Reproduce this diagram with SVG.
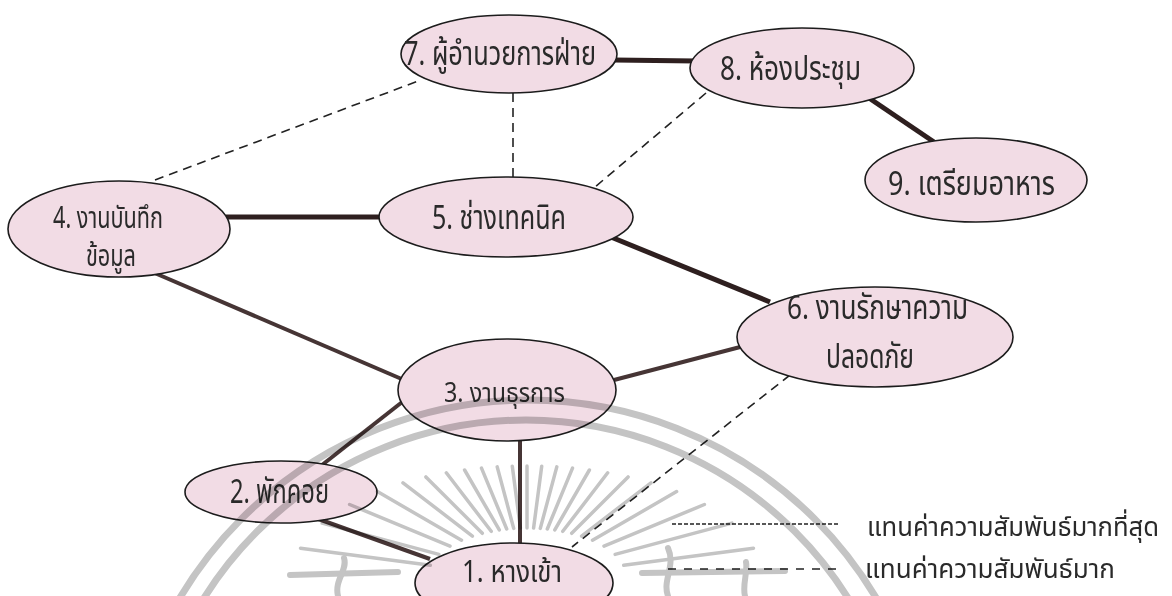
<svg xmlns="http://www.w3.org/2000/svg" width="1172" height="596" viewBox="0 0 1172 596">
  <style>
    .node { fill: #f2dce5; stroke: #1c1c1c; stroke-width: 1.6; }
    .lbl { font-family: "Noto Sans Thai", "Noto Sans Thai Looped", "Loma", "Garuda", "Waree", "Liberation Sans", "DejaVu Sans", sans-serif; font-size: 33px; fill: #2a2a2a; }
    .small { font-size: 27px; }
    .mid { font-size: 30px; }
    .legend-text { font-size: 26.5px; }
    .strong { stroke: #2e1f1f; stroke-width: 5; stroke-linecap: butt; fill: none; }
    .medium { stroke: #463535; stroke-width: 4; stroke-linecap: butt; fill: none; }
    .dash { stroke: #222; stroke-width: 1.6; stroke-dasharray: 9 6; fill: none; }
    .wm { stroke: #c4c4c4; fill: none; mix-blend-mode: multiply; }
  </style>
  <rect width="1172" height="596" fill="#ffffff"/>

  <!-- connectors -->
  <g id="connectors">
    <line class="strong" x1="226" y1="217" x2="383" y2="217"/>
    <line class="strong" x1="614" y1="60" x2="696" y2="61"/>
    <line class="strong" x1="866" y1="96" x2="934" y2="142"/>
    <line class="strong" x1="606" y1="235" x2="770" y2="302"/>
    <line class="medium" x1="150" y1="271" x2="404" y2="380"/>
    <line class="medium" x1="614" y1="380" x2="744" y2="346"/>
    <line class="medium" x1="406" y1="399" x2="322" y2="465"/>
    <line class="medium" x1="310" y1="516" x2="430" y2="559"/>
    <line class="medium" x1="520" y1="438" x2="520" y2="546"/>
    <line class="dash" x1="155" y1="180" x2="421" y2="80"/>
    <line class="dash" x1="513" y1="93" x2="513" y2="180"/>
    <line class="dash" x1="706" y1="93" x2="595" y2="187"/>
    <line class="dash" x1="790" y1="375" x2="572" y2="547"/>
  </g>

  <!-- nodes -->
  <g id="node1">
    <ellipse class="node" cx="514" cy="583" rx="99" ry="40"/>
    <text class="lbl mid" x="462" y="582" textLength="100" lengthAdjust="spacingAndGlyphs">1. หางเข้า</text>
  </g>
  <g id="node2">
    <ellipse class="node" cx="281" cy="492" rx="96" ry="31"/>
    <text class="lbl" x="230" y="503" textLength="99" lengthAdjust="spacingAndGlyphs">2. พักคอย</text>
  </g>
  <g id="node3">
    <ellipse class="node" cx="507" cy="390" rx="109" ry="51"/>
    <text class="lbl small" x="444" y="402" textLength="121" lengthAdjust="spacingAndGlyphs">3. งานธุรการ</text>
  </g>
  <g id="node4">
    <ellipse class="node" cx="119" cy="229" rx="111" ry="48"/>
    <text class="lbl mid" x="53" y="228" textLength="110" lengthAdjust="spacingAndGlyphs">4. งานบันทึก</text>
    <text class="lbl mid" x="86" y="266" textLength="50" lengthAdjust="spacingAndGlyphs">ข้อมูล</text>
  </g>
  <g id="node5">
    <ellipse class="node" cx="506" cy="217" rx="127" ry="40"/>
    <text class="lbl" x="432" y="229" textLength="134" lengthAdjust="spacingAndGlyphs">5. ช่างเทคนิค</text>
  </g>
  <g id="node6">
    <ellipse class="node" cx="875" cy="337" rx="138" ry="50"/>
    <text class="lbl" x="787" y="319" textLength="181" lengthAdjust="spacingAndGlyphs">6. งานรักษาความ</text>
    <text class="lbl" x="826" y="368" textLength="88" lengthAdjust="spacingAndGlyphs">ปลอดภัย</text>
  </g>
  <g id="node7">
    <ellipse class="node" cx="509" cy="54" rx="108" ry="39"/>
    <text class="lbl" x="404" y="65" textLength="192" lengthAdjust="spacingAndGlyphs">7. ผู้อำนวยการฝ่าย</text>
  </g>
  <g id="node8">
    <ellipse class="node" cx="802" cy="68" rx="112" ry="40"/>
    <text class="lbl" x="720" y="80" textLength="141" lengthAdjust="spacingAndGlyphs">8. ห้องประชุม</text>
  </g>
  <g id="node9">
    <ellipse class="node" cx="976" cy="180" rx="111" ry="42"/>
    <text class="lbl" x="888" y="195" textLength="167" lengthAdjust="spacingAndGlyphs">9. เตรียมอาหาร</text>
  </g>

  <!-- legend -->
  <g id="legend">
    <line x1="672" y1="524" x2="838" y2="524" stroke="#222" stroke-width="1.3" stroke-dasharray="4 2"/>
    <line x1="668" y1="569" x2="837" y2="569" stroke="#222" stroke-width="1.5" stroke-dasharray="8 8"/>
    <text class="lbl legend-text" x="867" y="536" textLength="292" lengthAdjust="spacingAndGlyphs">แทนค่าความสัมพันธ์มากที่สุด</text>
    <text class="lbl legend-text" x="865" y="578" textLength="250" lengthAdjust="spacingAndGlyphs">แทนค่าความสัมพันธ์มาก</text>
  </g>

  <!-- faint emblem watermark: rings, rays and base strokes -->
  <g id="watermark" class="wm">
    <circle cx="528" cy="805" r="405" stroke-width="7"/>
    <circle cx="526" cy="800" r="380" stroke-width="7"/>
    <g stroke-width="3.5" stroke-linecap="round">
      <line x1="623.7" y1="565.3" x2="753.5" y2="548.2"/>
      <line x1="615.1" y1="554.4" x2="731.9" y2="523.1"/>
      <line x1="604.0" y1="546.1" x2="704.4" y2="504.5"/>
      <line x1="592.5" y1="540.2" x2="676.6" y2="491.6"/>
      <line x1="581.6" y1="536.1" x2="651.0" y2="482.8"/>
      <line x1="571.7" y1="533.3" x2="628.1" y2="476.9"/>
      <line x1="562.8" y1="531.3" x2="607.7" y2="472.8"/>
      <line x1="554.8" y1="529.9" x2="589.4" y2="470.0"/>
      <line x1="547.3" y1="529.0" x2="572.5" y2="468.1"/>
      <line x1="540.3" y1="528.4" x2="556.8" y2="466.9"/>
      <line x1="533.6" y1="528.1" x2="541.7" y2="466.2"/>
      <line x1="527" y1="528" x2="527" y2="466"/>
      <line x1="520.4" y1="528.1" x2="512.3" y2="466.2"/>
      <line x1="513.7" y1="528.4" x2="497.2" y2="466.9"/>
      <line x1="506.7" y1="529.0" x2="481.5" y2="468.1"/>
      <line x1="499.3" y1="529.9" x2="464.6" y2="470.0"/>
      <line x1="491.2" y1="531.3" x2="446.3" y2="472.8"/>
      <line x1="482.3" y1="533.3" x2="425.9" y2="476.9"/>
      <line x1="472.4" y1="536.1" x2="403.0" y2="482.8"/>
      <line x1="461.5" y1="540.2" x2="377.4" y2="491.6"/>
      <line x1="450.0" y1="546.1" x2="349.6" y2="504.5"/>
      <line x1="438.9" y1="554.4" x2="322.1" y2="523.1"/>
      <line x1="430.3" y1="565.3" x2="300.5" y2="548.2"/>
    </g>
    <g stroke-width="6" stroke-linecap="round">
      <path d="M290 575 L398 572"/>
      <path d="M642 573 L785 571"/>
      <path d="M338 596 C334 580 348 570 344 558"/>
      <path d="M668 596 C662 580 676 566 668 548"/>
      <path d="M745 596 C742 585 748 572 746 562"/>
    </g>
  </g>
</svg>
